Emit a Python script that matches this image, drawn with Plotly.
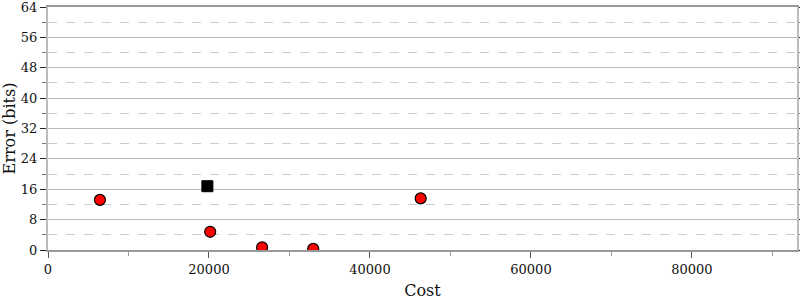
import plotly.graph_objects as go

cost_red = [6450, 20150, 26600, 32950, 46300]
err_red = [13.2, 4.8, 0.7, 0.3, 13.6]
cost_black = [19800]
err_black = [16.8]

x_ticks = [0, 20000, 40000, 60000, 80000]
y_ticks = [0, 8, 16, 24, 32, 40, 48, 56, 64]

font = dict(family="DejaVu Serif", size=13, color="#111")

fig = go.Figure()
fig.add_trace(go.Scatter(x=cost_red, y=err_red, mode="markers",
                         marker=dict(color="red", size=11, line=dict(color="black", width=1.2))))
fig.add_trace(go.Scatter(x=cost_black, y=err_black, mode="markers",
                         marker=dict(color="black", symbol="square", size=11, line=dict(color="black", width=1))))

fig.update_layout(
    width=800, height=300, showlegend=False,
    margin=dict(l=48, r=3, t=7, b=50),
    paper_bgcolor="white", plot_bgcolor="white",
    font=font,
    xaxis=dict(range=[0, 93050], tickvals=x_ticks, ticktext=[str(v) for v in x_ticks],
               showgrid=False, zeroline=False, showline=True, linecolor="#999", linewidth=2,
               ticks="outside", ticklen=6, tickcolor="#555", tickwidth=1,
               minor=dict(dtick=10000, ticks="outside", ticklen=4, tickcolor="#999", showgrid=False),
               title=dict(text="Cost", standoff=12), mirror=True, automargin=False,
               ticklabeloverflow="allow"),
    yaxis=dict(range=[0, 64], tickvals=y_ticks, showgrid=True, gridcolor="#bbb", gridwidth=1,
               zeroline=False, showline=True, linecolor="#bbb", linewidth=2,
               ticks="outside", ticklen=6, tickcolor="#222", tickwidth=1, mirror="ticks",
               minor=dict(dtick=4, ticks="outside", ticklen=4, tickcolor="#777",
                          showgrid=True, gridcolor="#ccc", griddash="dash", gridwidth=1),
               title=dict(text="Error (bits)", standoff=6), automargin=False,
               ticklabeloverflow="allow"),
)
fig.write_html("out.html")
